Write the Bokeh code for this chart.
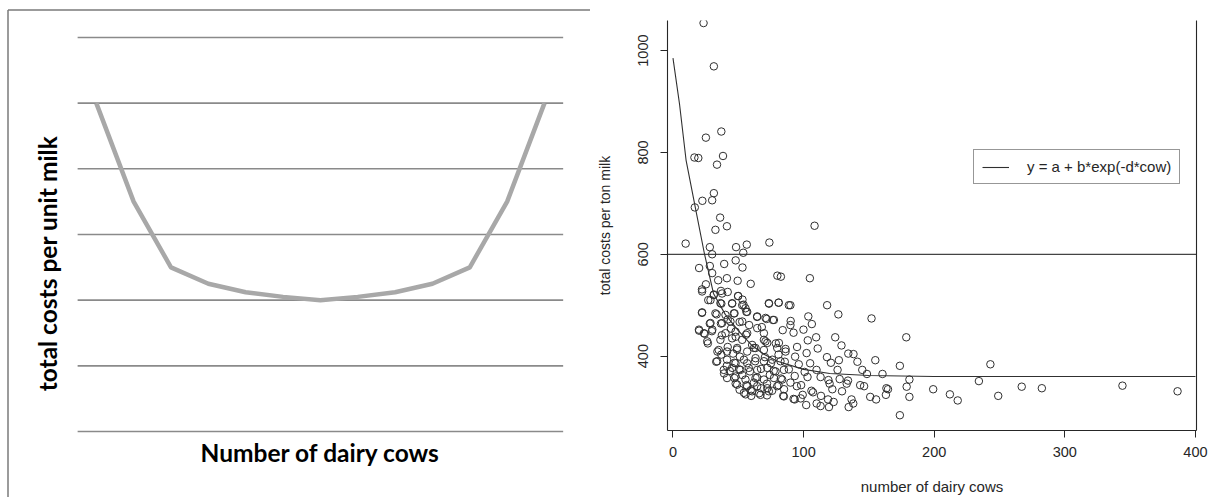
from math import pi

from bokeh.embed import file_html
from bokeh.layouts import row
from bokeh.models import (FixedTicker, Label, Legend, LegendItem,
                          LinearAxis, Range1d)
from bokeh.plotting import figure
from bokeh.resources import INLINE

# ---------------- data ----------------
# Left panel: schematic cost curve over farm-size classes
size_classes = list(range(1, 14))
unit_cost = [5.0, 3.5, 2.5, 2.25, 2.12, 2.05, 2.0, 2.05, 2.12, 2.25, 2.5, 3.5, 5.0]
grid_levels = [0, 1, 2, 3, 4, 5, 6]

# Right panel: observed farms (number of cows, total costs per ton milk)
cows = [
    23.4, 31.3, 37, 25.2, 38.3, 16.4, 19.4, 33.7, 31.3, 22.5,
    30, 16.7, 36.1, 41.3, 32.5, 108.4, 9.7, 73.8, 28.2, 48.3,
    56.5, 53.8, 30, 20, 28.2, 48, 39.2, 53.2, 30, 41.3,
    49.5, 59.5, 104.8, 79.9, 82.6, 25.2, 22.2, 34.6, 31.3, 36.7,
    41.9, 49.8, 27, 53.2, 37, 45.3, 73.5, 80.8, 89.9, 118,
    54, 22.2, 33.4, 47.1, 56.2, 103.6, 126.6, 64.4, 71.7, 76.5,
    152, 28.2, 36.7, 41.9, 51, 58.3, 90.1, 106.3, 89.9, 20,
    24.3, 29.8, 44.4, 68, 84, 92.3, 99.9, 26.7, 37.4, 48,
    55.9, 70.8, 78.7, 109.6, 124.2, 178.6, 103.2, 129, 34, 41.9,
    49, 62, 86.2, 95, 110.8, 134.2, 138.2, 37, 46, 51.2,
    70.4, 80.8, 93.5, 102.3, 117.9, 127, 154.9, 33.1, 41.2, 47,
    56.8, 62.9, 75, 85.6, 96.3, 105, 120.9, 141.2, 173.7, 243,
    43.5, 50.7, 58.9, 67.4, 77.1, 88.7, 100.8, 109.9, 126, 144.9,
    148.5, 160.4, 39.1, 47, 53.1, 64.4, 74.1, 82.6, 93.2, 103,
    113, 119, 127.6, 134, 181, 234.2, 48, 56.2, 62, 72,
    80.8, 89.9, 98.1, 119.9, 133, 143.3, 146.3, 178.9, 51, 59.5,
    67.4, 75.9, 85, 94.8, 106, 122, 129.4, 164.6, 163.4, 199.2,
    267, 282.4, 344.1, 386.3, 55.6, 59.9, 65.9, 72, 84.4, 93.2,
    99.3, 107.2, 113.3, 118.7, 123, 136.7, 151, 155.5, 163, 181,
    212, 249, 92.3, 97.8, 102, 110, 113, 119.4, 134.5, 138,
    218, 173.7,
    22.3, 31.2, 37.6, 49.9, 28.7, 36.3, 45.3, 53, 55.5, 73.4,
    81, 88.7, 22.3, 32.5, 40.2, 46.6, 56.8, 64.5, 70.9, 77.3,
    28.7, 37.6, 44, 53, 19.9, 23.7, 30.1, 40.2, 47.9, 56.8,
    64.5, 69.6, 26.2, 36.3, 45.3, 53, 60.6, 69.6, 72.2, 81.1,
    35, 41.4, 49.1, 56.8, 63.2, 69.6, 79.8, 86.2, 33.8, 41.4,
    47.9, 54.3, 63.2, 69.6, 76, 82.3, 38.9, 45.3, 51.6, 58,
    64.5, 72.2, 78.5, 84.9, 41.4, 47.9, 55.5, 63.2, 69.6, 77.3,
    83.6, 49.1, 56.8, 64.5, 72.2, 79.8, 54.3, 60.6, 67, 73.4,
    84.9,
]
costs = [
    1054, 969, 841, 829, 793, 790, 789, 776, 720, 705,
    706, 692, 672, 655, 648, 656, 621, 623, 614, 614,
    619, 603, 600, 573, 577, 588, 581, 574, 563, 553,
    548, 542, 553, 558, 556, 541, 531, 549, 521, 528,
    526, 518, 510, 511, 503, 503, 503, 505, 500, 500,
    501, 485, 482, 484, 487, 478, 482, 477, 473, 471,
    474, 464, 464, 472, 467, 461, 469, 463, 461, 450,
    444, 449, 454, 457, 451, 446, 452, 425, 441, 438,
    442, 429, 425, 437, 437, 437, 431, 421, 409, 418,
    413, 416, 414, 418, 415, 405, 404, 403, 405, 399,
    398, 403, 399, 406, 398, 392, 392, 389, 381, 387,
    386, 390, 386, 389, 384, 386, 387, 389, 381, 384,
    371, 374, 370, 375, 371, 374, 369, 373, 373, 373,
    365, 365, 366, 357, 363, 358, 363, 356, 361, 359,
    359, 353, 355, 352, 354, 351, 346, 343, 348, 346,
    343, 348, 343, 346, 346, 343, 341, 340, 334, 333,
    337, 332, 335, 341, 332, 335, 331, 335, 337, 335,
    340, 337, 342, 331, 325, 322, 327, 323, 322, 315,
    324, 329, 322, 315, 310, 315, 320, 315, 324, 320,
    325, 322, 316, 317, 304, 307, 302, 300, 300, 307,
    313, 284,
    527, 520, 523, 518, 510, 504, 504, 500, 494, 504,
    505, 500, 486, 484, 481, 484, 487, 478, 475, 471,
    465, 465, 468, 468, 452, 445, 452, 445, 448, 445,
    455, 445, 429, 432, 435, 432, 422, 432, 426, 426,
    412, 409, 416, 409, 416, 412, 416, 409, 390, 393,
    386, 393, 396, 390, 393, 390, 373, 377, 373, 377,
    373, 377, 370, 373, 357, 360, 354, 357, 354, 357,
    354, 344, 341, 341, 337, 341, 328, 331, 324, 331,
    321,
]

# Fitted curve y = a + b*exp(-d*cow), as traced along the herd-size axis
fit_cows = [0, 5, 10, 17, 24, 31, 40, 50, 60, 70, 80, 100, 120, 150, 200, 300, 400]
fit_costs = [985, 895, 785, 693, 602, 523, 482, 450, 422, 403, 390, 374, 366, 362, 360, 360, 360]

reference_cost = [600]
x_ticks = [0, 100, 200, 300, 400]
y_ticks = [400, 600, 800, 1000]

# ---------------- left panel ----------------
left = figure(width=590, height=497, x_range=Range1d(-1.565, 14.232),
              y_range=Range1d(-1.005, 6.563), x_axis_location=None,
              y_axis_location=None, output_backend="svg", toolbar_location=None,
              min_border=0)
left.frame_align = False
left.grid.visible = False
left.outline_line_color = None
left.background_fill_color = "white"
# pixel-space helper ranges for the frame and the titles
left.extra_x_ranges = {"px": Range1d(0, 590)}
left.extra_y_ranges = {"px": Range1d(497, 0)}

# thin grey frame around the schematic chart (left and top edges are in view)
left.segment(x0=[7.5, 7.5], y0=[9.5, 9.5], x1=[7.5, 589.5], y1=[497, 9.5],
             x_range_name="px", y_range_name="px",
             line_color="#7a7a7a", line_width=1.5)

left.segment(x0=[0.5] * len(grid_levels), x1=[13.5] * len(grid_levels),
             y0=grid_levels, y1=grid_levels, line_color="#8a8a8a", line_width=1.6)
left.line(size_classes, unit_cost, line_color="#a8a8a8", line_width=4.5,
          line_join="round")

left.add_layout(Label(x=47, y=263, x_range_name="px", y_range_name="px",
                      text="total costs per unit milk", angle=pi / 2,
                      text_align="center", text_baseline="middle",
                      text_font="Lato", text_font_style="bold",
                      text_font_size="24.5px", text_color="black"))
left.add_layout(Label(x=320, y=452, x_range_name="px", y_range_name="px",
                      text="Number of dairy cows",
                      text_align="center", text_baseline="middle",
                      text_font="Lato", text_font_style="bold",
                      text_font_size="24.5px", text_color="black"))

# ---------------- right panel ----------------
FONT = "Liberation Sans"
INK = "#262626"

right = figure(width=622, height=497, x_range=Range1d(-4.2, 400.8),
               y_range=Range1d(254, 1059), output_backend="svg",
               toolbar_location=None, min_border_left=77, min_border_right=16,
               min_border_top=20, min_border_bottom=66)
right.frame_align = False
right.grid.visible = False
right.outline_line_color = None

for ax in (right.xaxis[0], right.yaxis[0]):
    ax.axis_line_color = INK
    ax.axis_line_width = 1.1
    ax.major_tick_line_color = INK
    ax.major_tick_out = 7
    ax.major_tick_in = 0
    ax.minor_tick_line_color = None
    ax.major_label_text_font = FONT
    ax.major_label_text_font_size = "14.5px"
    ax.major_label_text_color = INK
    ax.axis_label_text_font = FONT
    ax.axis_label_text_font_style = "normal"
    ax.axis_label_text_color = INK

right.xaxis[0].ticker = FixedTicker(ticks=x_ticks)
right.xaxis[0].major_label_standoff = 9
right.xaxis[0].axis_label = "number of dairy cows"
right.xaxis[0].axis_label_text_font_size = "15px"
right.xaxis[0].axis_label_standoff = 18

right.yaxis[0].ticker = FixedTicker(ticks=y_ticks)
right.yaxis[0].major_label_orientation = "vertical"
right.yaxis[0].major_label_standoff = 12
right.yaxis[0].axis_label = "total costs per ton milk"
right.yaxis[0].axis_label_text_font_size = "14px"
right.yaxis[0].axis_label_standoff = 23

right.add_layout(LinearAxis(ticker=FixedTicker(ticks=[]), axis_line_color=INK,
                            axis_line_width=1.1, major_tick_line_color=None,
                            minor_tick_line_color=None,
                            major_label_text_font_size="0px"), "right")

right.segment(x0=-4.2, x1=400.8, y0=reference_cost, y1=reference_cost,
              line_color="#444444", line_width=1.2)
right.scatter(cows, costs, marker="circle", size=7.5, fill_color=None,
              line_color="#303030", line_width=1.0)
fit = right.line(fit_cows, fit_costs, line_color="#303030", line_width=1.1)

legend = Legend(items=[LegendItem(label="y = a + b*exp(-d*cow)", renderers=[fit])],
                location=(306, 246), orientation="vertical",
                border_line_color="#303030", border_line_width=1,
                background_fill_color="white", background_fill_alpha=1,
                padding=8, margin=0, glyph_width=27, glyph_height=14,
                label_height=14, label_standoff=18, label_text_font=FONT,
                label_text_font_size="15px", label_text_color=INK)
right.add_layout(legend)

layout = row(left, right)
open("out.html", "w").write(file_html(layout, INLINE))
